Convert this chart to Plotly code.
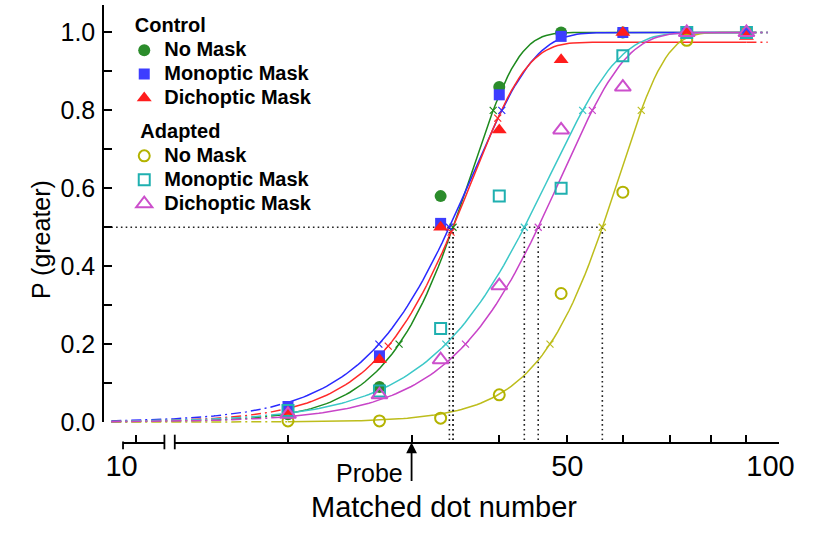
import numpy as np
import plotly.graph_objects as go

# ---------------- data ----------------
dot_numbers = [20, 27, 33, 40, 49, 60, 74, 90]

ctrl_no_mask = [0.02, 0.09, 0.58, 0.86, 1.00, 1.00, 1.00, 1.00]
ctrl_monoptic = [0.04, 0.17, 0.51, 0.84, 0.99, 1.00, 1.00, 1.00]
ctrl_dichoptic = [0.025, 0.16, 0.50, 0.75, 0.93, 1.00, 1.00, 0.99]
adapt_no_mask = [0.003, 0.003, 0.01, 0.07, 0.33, 0.59, 0.98, 1.00]
adapt_monoptic = [0.03, 0.08, 0.24, 0.58, 0.60, 0.94, 1.00, 1.00]
adapt_dichoptic = [0.02, 0.07, 0.16, 0.35, 0.75, 0.86, 1.00, 1.00]

series_labels = ["No Mask", "Monoptic Mask", "Dichoptic Mask",
                 "No Mask", "Monoptic Mask", "Dichoptic Mask"]
group_names = ["Control", "Control", "Control", "Adapted", "Adapted", "Adapted"]

# Weibull psychometric fits: threshold alpha, slope beta, upper asymptote
fit_alpha = [36.4, 36.6, 36.5, 59.3, 47.2, 49.1]
fit_beta = [6.4, 4.9, 5.5, 6.6, 4.4, 4.75]
fit_upper = [1.0, 1.0, 0.975, 1.0, 1.0, 1.0]
fit_span = [11.2, 96.5]
marked_levels = [0.2, 0.5, 0.8]

probe_value = 30
x_tick_vals = [20, 30, 40, 50, 60, 70, 80, 90, 100]
x_tick_text = ["", "", "", "50", "", "", "", "", "100\u00a0\u00a0"]
break_tick_vals = [10]
break_tick_text = ["10"]
y_tick_vals = [0.0, 0.1, 0.2, 0.3, 0.4, 0.5, 0.6, 0.7, 0.8, 0.9, 1.0]
y_tick_text = ["0.0", "", "0.2", "", "0.4", "", "0.6", "", "0.8", "", "1.0"]

# ---------------- styles ----------------
marker_colors = ["#2b8c2b", "#3d3dff", "#ff1c1c", "#b3b300", "#1fb0b0", "#cc4fcc"]
curve_colors = ["#1e8a1e", "#2a2aff", "#ff2a2a", "#bdbd1c", "#3cc8c8", "#c844c8"]
symbols = ["circle", "square", "triangle-up", "circle-open", "square-open", "triangle-up-open"]
sizes = [12, 11, 13, 11, 11, 14]
ys_all = [ctrl_no_mask, ctrl_monoptic, ctrl_dichoptic, adapt_no_mask, adapt_monoptic, adapt_dichoptic]
title_pad = {"Control": "\u00a0", "Adapted": "\u00a0\u00a0"}

FONT = "Liberation Sans, Arial, sans-serif"
W, H = 827, 538


def fx(p):
    return p / W


def fy(p):
    return 1 - p / H


# pixel geometry of the reference
PX_PER_DEC = 746.0
PX_100 = 809.5
Y_AXIS_X = 91.7
X_AXIS_Y = 453.3
PLOT_TOP = 5.0
Y_ZERO = 433.36
PX_PER_UNIT = 400.0
Y_TOP_VAL = (Y_ZERO - PLOT_TOP) / PX_PER_UNIT
Y_BOT_VAL = -(X_AXIS_Y - Y_ZERO) / PX_PER_UNIT


def lg_at(p):
    return 2 - (PX_100 - p) / PX_PER_DEC


def weibull(x, a, b, u):
    return u * (1 - np.exp(-(np.asarray(x) / a) ** b))


def weibull_inv(p, a, b, u):
    return a * (-np.log(1 - p / u)) ** (1 / b)


fig = go.Figure()
x_first, x_last = dot_numbers[0], dot_numbers[-1]
dashdot = "10px,4px,2px,4px"

# fitted curves (dash-dot where extrapolated beyond the tested range)
for i in range(6):
    a, b, u = fit_alpha[i], fit_beta[i], fit_upper[i]
    segs = [(fit_span[0], x_first, dashdot), (x_first, x_last, "solid"), (x_last, fit_span[1], dashdot)]
    for lo, hi, dash in segs:
        xs = np.geomspace(lo, hi, 120)
        fig.add_trace(go.Scatter(x=xs, y=weibull(xs, a, b, u), mode="lines",
                                 line=dict(color=curve_colors[i], width=1.5, dash=dash),
                                 showlegend=False, hoverinfo="skip"))

# 50% threshold guides
thresholds = [weibull_inv(0.5, fit_alpha[i], fit_beta[i], fit_upper[i]) for i in range(6)]
dot_style = dict(color="#222222", width=1.6, dash="1.6px,3.2px")
fig.add_trace(go.Scatter(x=[fit_span[0], max(thresholds)], y=[0.5, 0.5], mode="lines",
                         line=dot_style, showlegend=False, hoverinfo="skip"))
for t in thresholds:
    fig.add_trace(go.Scatter(x=[t, t], y=[0.5, Y_BOT_VAL], mode="lines",
                             line=dot_style, showlegend=False, hoverinfo="skip"))

# small x marks at 20 / 50 / 80 % of each fit
for i in range(6):
    a, b, u = fit_alpha[i], fit_beta[i], fit_upper[i]
    xm = [weibull_inv(p * u, a, b, u) for p in marked_levels]
    fig.add_trace(go.Scatter(x=xm, y=weibull(xm, a, b, u), mode="markers",
                             marker=dict(symbol="x-thin", size=7,
                                         line=dict(color=curve_colors[i], width=1.2)),
                             showlegend=False, hoverinfo="skip"))

# data points (legend entries)
LEG_FS = 20
LEG_BASE = 16.1
for i in range(6):
    open_sym = symbols[i].endswith("open")
    mk = dict(symbol=symbols[i], size=sizes[i], color=marker_colors[i])
    mk["line"] = dict(color=marker_colors[i], width=2) if open_sym else dict(width=0)
    kw = {}
    if i in (0, 3):
        g = group_names[i]
        kw["legendgrouptitle"] = dict(
            text='<span style="font-size:%dpx">%s%s</span>' % (LEG_FS, title_pad[g], g),
            font=dict(family=FONT, size=LEG_BASE, color="black", weight="bold"))
    fig.add_trace(go.Scatter(x=dot_numbers, y=ys_all[i], mode="markers", marker=mk,
                             name='<span style="font-size:%dpx">%s</span>' % (LEG_FS, series_labels[i]),
                             legendgroup=group_names[i], cliponaxis=False, **kw))

# empty traces that carry the drawn axes
fig.add_trace(go.Scatter(x=[None], y=[None], xaxis="x2", yaxis="y", showlegend=False, hoverinfo="skip"))
fig.add_trace(go.Scatter(x=[None], y=[None], xaxis="x3", yaxis="y", showlegend=False, hoverinfo="skip"))
fig.add_trace(go.Scatter(x=[None], y=[None], xaxis="x", yaxis="y2", showlegend=False, hoverinfo="skip"))

stub_left, stub_right, main_left = 112.7, 156.7, 167.7
ten_px = 126.0
stub_lo = 9.4
stub_hi = stub_lo + (10 - stub_lo) * (stub_right - stub_left) / (ten_px - stub_left)
main_right = PX_100 + 0.6
data_right = 815.0

fig.update_layout(
    width=W, height=H,
    margin=dict(l=0, r=0, t=0, b=0),
    paper_bgcolor="white", plot_bgcolor="rgba(0,0,0,0)",
    font=dict(family=FONT, color="black"),
    showlegend=True,
    legend=dict(x=fx(114), y=fy(9.5), xanchor="left", yanchor="top",
                bgcolor="rgba(0,0,0,0)", tracegroupgap=10,
                font=dict(family=FONT, size=LEG_BASE, color="black", weight="bold"),
                itemsizing="trace"),
    xaxis=dict(type="log", domain=[fx(Y_AXIS_X), fx(data_right)],
               range=[lg_at(Y_AXIS_X), lg_at(data_right)], visible=False, anchor="y"),
    yaxis=dict(domain=[fy(X_AXIS_Y), fy(PLOT_TOP)], range=[Y_BOT_VAL, Y_TOP_VAL],
               visible=False, anchor="x"),
    xaxis2=dict(type="log", domain=[fx(main_left), fx(main_right)], range=[lg_at(main_left), lg_at(main_right)],
                anchor="y", showline=True, linecolor="black", linewidth=2,
                ticks="inside", ticklen=7, tickwidth=1.5, tickcolor="black",
                tickvals=x_tick_vals, ticktext=x_tick_text, ticklabeloverflow="allow",
                ticklabelstandoff=-2,
                tickfont=dict(family=FONT, size=29, color="black"),
                showgrid=False, zeroline=False),
    xaxis3=dict(type="linear", domain=[fx(stub_left), fx(stub_right)], range=[stub_lo, stub_hi],
                anchor="y", showline=True, linecolor="black", linewidth=2,
                ticks="inside", ticklen=7, tickwidth=1.5, tickcolor="black",
                tickvals=break_tick_vals, ticktext=break_tick_text, ticklabelshift=-14,
                ticklabeloverflow="allow", ticklabelstandoff=-2,
                tickfont=dict(family=FONT, size=29, color="black"),
                showgrid=False, zeroline=False),
    yaxis2=dict(domain=[fy(Y_ZERO), fy(PLOT_TOP)], range=[0, Y_TOP_VAL],
                anchor="free", position=fx(Y_AXIS_X), showline=True, linecolor="black", linewidth=2,
                ticks="inside", ticklen=8, tickwidth=1.5, tickcolor="black",
                tickvals=y_tick_vals, ticktext=y_tick_text, ticklabelstandoff=2,
                tickfont=dict(family=FONT, size=25, color="black"),
                showgrid=False, zeroline=False),
)

# axis break marks and end cap of the short "10" segment
shapes = []
for p in (stub_right, main_left):
    shapes.append(dict(type="line", xref="paper", yref="paper",
                       x0=fx(p), x1=fx(p), y0=fy(X_AXIS_Y - 7), y1=fy(X_AXIS_Y + 8),
                       line=dict(color="black", width=1.8)))
shapes.append(dict(type="line", xref="paper", yref="paper",
                   x0=fx(stub_left), x1=fx(stub_left), y0=fy(X_AXIS_Y), y1=fy(X_AXIS_Y + 8),
                   line=dict(color="black", width=1.8)))
fig.update_layout(shapes=shapes)

annotations = [
    dict(text="P (greater)", xref="paper", yref="paper", x=fx(25), y=fy(246),
         textangle=-90, showarrow=False, font=dict(family=FONT, size=25, color="black"),
         xanchor="center", yanchor="middle"),
    dict(text="Matched dot number", xref="paper", yref="paper", x=fx(454), y=fy(520.5),
         showarrow=False, font=dict(family=FONT, size=29, color="black"),
         xanchor="center", yanchor="middle"),
    dict(text="Probe", xref="paper", yref="paper", x=fx(375), y=fy(486),
         showarrow=False, font=dict(family=FONT, size=25, color="black"),
         xanchor="center", yanchor="middle"),
    dict(text="", xref="x", yref="paper", x=np.log10(probe_value), y=fy(X_AXIS_Y + 1),
         ax=0, ay=40, axref="pixel", ayref="pixel", showarrow=True,
         arrowhead=2, arrowsize=1.2, arrowwidth=1.8, arrowcolor="black", standoff=0),
]
fig.update_layout(annotations=annotations)

fig.write_html("out.html")
